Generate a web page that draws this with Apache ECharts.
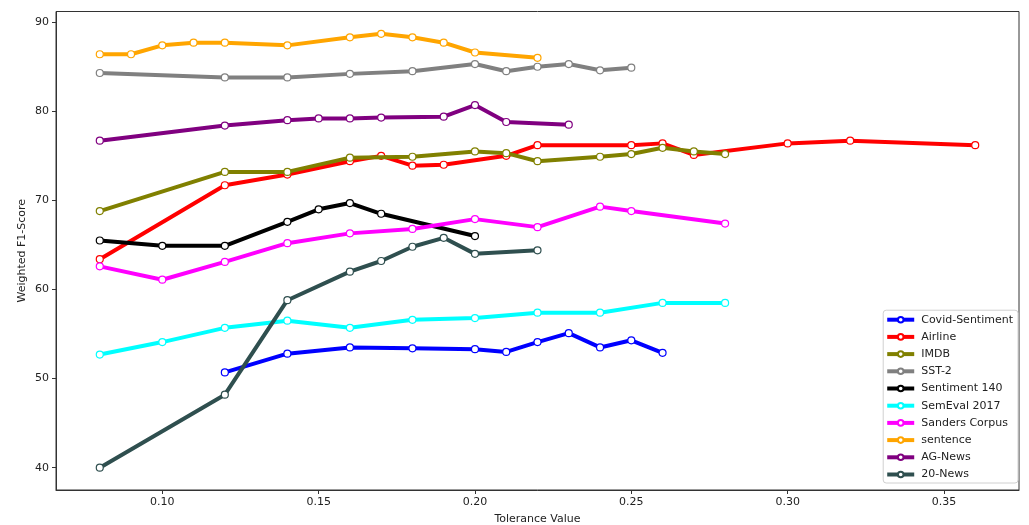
<!DOCTYPE html>
<html>
<head>
<meta charset="utf-8">
<script src="https://cdn.jsdelivr.net/npm/echarts@6/dist/echarts.min.js"></script>
<style>
html,body{margin:0;padding:0;background:#fff;}
#chart{width:1029px;height:525px;}
</style>
</head>
<body>
<div id="chart"></div>
<script>
// ---- data ----
const seriesNames = ["Covid-Sentiment","Airline","IMDB","SST-2","Sentiment 140","SemEval 2017","Sanders Corpus","sentence","AG-News","20-News"];

const covidX = [0.12,0.14,0.16,0.18,0.20,0.21,0.22,0.23,0.24,0.25,0.26];
const covidY = [50.7,52.8,53.5,53.4,53.3,53.0,54.1,55.1,53.5,54.3,52.9];

const airlineX = [0.08,0.12,0.14,0.16,0.17,0.18,0.19,0.21,0.22,0.25,0.26,0.27,0.30,0.32,0.36];
const airlineY = [63.4,71.7,72.9,74.4,75.0,73.9,74.0,75.0,76.2,76.2,76.4,75.1,76.4,76.7,76.2];

const imdbX = [0.08,0.12,0.14,0.16,0.18,0.20,0.21,0.22,0.24,0.25,0.26,0.27,0.28];
const imdbY = [68.8,73.2,73.2,74.8,74.9,75.5,75.3,74.4,74.9,75.2,75.9,75.5,75.2];

const sst2X = [0.08,0.12,0.14,0.16,0.18,0.20,0.21,0.22,0.23,0.24,0.25];
const sst2Y = [84.3,83.8,83.8,84.2,84.5,85.3,84.5,85.0,85.3,84.6,84.9];

const s140X = [0.08,0.10,0.12,0.14,0.15,0.16,0.17,0.20];
const s140Y = [65.5,64.9,64.9,67.6,69.0,69.7,68.5,66.0];

const semevalX = [0.08,0.10,0.12,0.14,0.16,0.18,0.20,0.22,0.24,0.26,0.28];
const semevalY = [52.7,54.1,55.7,56.5,55.7,56.6,56.8,57.4,57.4,58.5,58.5];

const sandersX = [0.08,0.10,0.12,0.14,0.16,0.18,0.20,0.22,0.24,0.25,0.28];
const sandersY = [62.6,61.1,63.1,65.2,66.3,66.8,67.9,67.0,69.3,68.8,67.4];

const sentenceX = [0.08,0.09,0.10,0.11,0.12,0.14,0.16,0.17,0.18,0.19,0.20,0.22];
const sentenceY = [86.4,86.4,87.4,87.7,87.7,87.4,88.3,88.7,88.3,87.7,86.6,86.0];

const agnewsX = [0.08,0.12,0.14,0.15,0.16,0.17,0.19,0.20,0.21,0.23];
const agnewsY = [76.7,78.4,79.0,79.2,79.2,79.3,79.4,80.7,78.8,78.5];

const news20X = [0.08,0.12,0.14,0.16,0.17,0.18,0.19,0.20,0.22];
const news20Y = [40.0,48.2,58.8,62.0,63.2,64.8,65.8,64.0,64.4];

const seriesColors = ["#0000ff","#ff0000","#808000","#808080","#000000","#00ffff","#ff00ff","#ffa500","#800080","#2f4f4f"];

const xTicks = [0.10,0.15,0.20,0.25,0.30,0.35];
const yTicks = [40,50,60,70,80,90];

const xsList = [covidX,airlineX,imdbX,sst2X,s140X,semevalX,sandersX,sentenceX,agnewsX,news20X];
const ysList = [covidY,airlineY,imdbY,sst2Y,s140Y,semevalY,sandersY,sentenceY,agnewsY,news20Y];

const FONT = "DejaVu Sans";

const series = seriesNames.map((name, i) => ({
  name: name,
  type: 'line',
  data: xsList[i].map((x, j) => [x, ysList[i][j]]),
  symbol: 'circle',
  symbolSize: 7,
  showSymbol: true,
  lineStyle: { color: seriesColors[i], width: 4 },
  itemStyle: { color: '#ffffff', borderColor: seriesColors[i], borderWidth: 1.2 },
  emphasis: { disabled: true },
  animation: false,
  z: 2 + i
}));

const chart = echarts.init(document.getElementById('chart'), null, { renderer: 'canvas' });
chart.setOption({
  animation: false,
  backgroundColor: '#ffffff',
  grid: {
    left: 56, right: 10, top: 11.5, bottom: 35,
    containLabel: false,
    outerBoundsMode: 'none',
    show: true, borderColor: '#333', borderWidth: 1, backgroundColor: 'transparent'
  },
  xAxis: {
    type: 'value',
    min: 0.066, max: 0.374,
    name: 'Tolerance Value',
    nameLocation: 'middle',
    nameGap: 23.5,
    nameTextStyle: { fontFamily: FONT, fontSize: 11, color: '#222' },
    axisLine: { show: true, lineStyle: { color: '#333', width: 1 } },
    axisTick: { show: true, length: 4, lineStyle: { color: '#333' }, customValues: xTicks },
    axisLabel: {
      fontFamily: FONT, fontSize: 11, color: '#222', margin: 7,
      customValues: xTicks,
      formatter: v => v.toFixed(2)
    },
    splitLine: { show: false }
  },
  yAxis: {
    type: 'value',
    min: 37.5, max: 91.2,
    name: 'Weighted F1-Score',
    nameLocation: 'middle',
    nameGap: 28,
    nameRotate: 90,
    nameMoveOverlap: false,
    nameTextStyle: { fontFamily: FONT, fontSize: 11, color: '#222' },
    axisLine: { show: true, lineStyle: { color: '#333', width: 1 } },
    axisTick: { show: true, length: 4, lineStyle: { color: '#333' }, customValues: yTicks },
    axisLabel: {
      fontFamily: FONT, fontSize: 11, color: '#222', margin: 7,
      customValues: yTicks,
      formatter: v => String(Math.round(v))
    },
    splitLine: { show: false }
  },
  legend: {
    data: seriesNames,
    orient: 'vertical',
    right: 11,
    bottom: 42,
    padding: [4, 5, 3, 2],
    itemWidth: 27,
    itemHeight: 7,
    itemGap: 6.2,
    lineStyle: { width: 4 },
    backgroundColor: 'rgba(255,255,255,0.85)',
    borderColor: '#d0d0d0',
    borderWidth: 1,
    borderRadius: 3,
    textStyle: { fontFamily: FONT, fontSize: 11, color: '#222', padding: [0, 0, 0, 2] },
    selectedMode: false
  },
  series: series
});
</script>
</body>
</html>
